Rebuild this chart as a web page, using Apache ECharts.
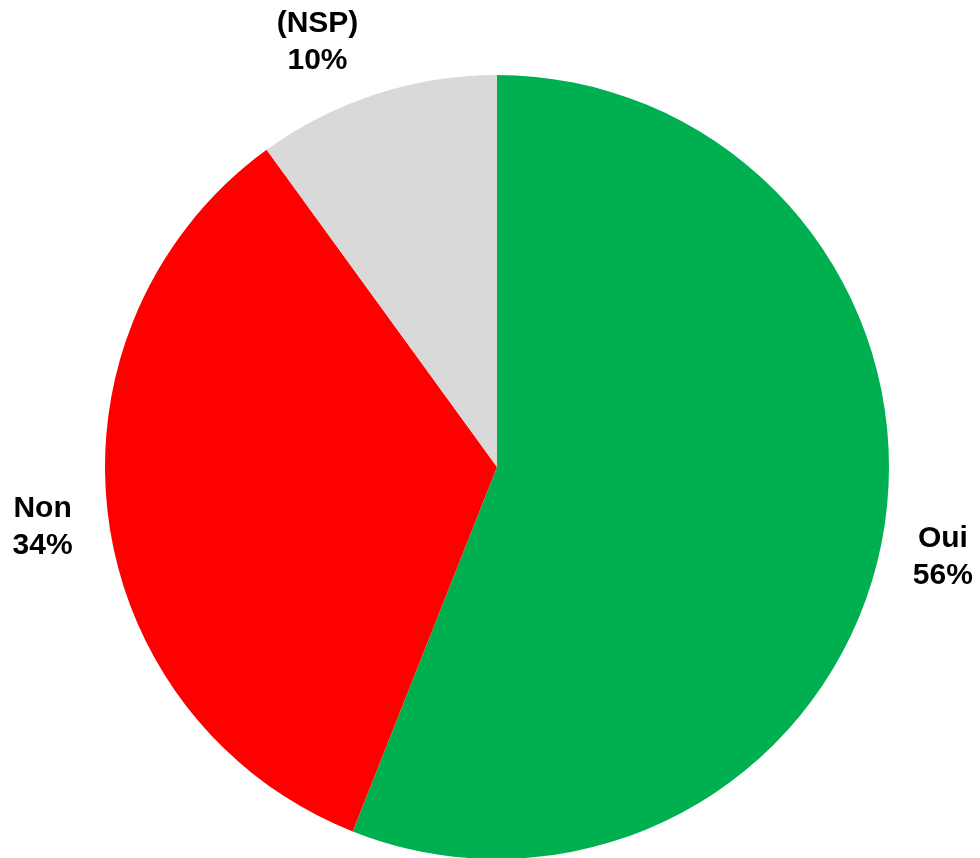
<!DOCTYPE html>
<html><head><meta charset="utf-8">
<script src="https://cdn.jsdelivr.net/npm/echarts@6/dist/echarts.min.js"></script>
<style>html,body{margin:0;padding:0;background:#fff}#c{width:980px;height:858px}</style>
</head><body><div id="c"></div>
<script>
const categories = ['Oui', 'Non', '(NSP)'];
const values = [56, 34, 10];
const colors = ['#00B050', '#FF0000', '#D9D9D9'];
const labelShift = [[-4, 4], [0, 3], [-38, 11]];

const data = categories.map((name, i) => ({ name: name, value: values[i], itemStyle: { color: colors[i] } }));
const chart = echarts.init(document.getElementById('c'));
chart.setOption({
  animation: false,
  series: [
    {
      type: 'pie',
      center: [497, 467],
      radius: [0, 392],
      startAngle: 90,
      clockwise: true,
      silent: true,
      label: { show: false },
      labelLine: { show: false },
      itemStyle: { borderWidth: 0 },
      data: data
    },
    {
      type: 'pie',
      center: [497, 467],
      radius: [435, 475],
      startAngle: 90,
      clockwise: true,
      silent: true,
      avoidLabelOverlap: false,
      itemStyle: { color: 'transparent', borderWidth: 0 },
      label: {
        show: true,
        position: 'inside',
        formatter: p => p.name + '\n' + p.value + '%',
        fontFamily: 'Liberation Sans, Arial, sans-serif',
        fontWeight: 'bold',
        fontSize: 30,
        lineHeight: 37,
        color: '#000'
      },
      labelLine: { show: false },
      labelLayout: p => ({ dx: labelShift[p.dataIndex][0], dy: labelShift[p.dataIndex][1] }),
      data: categories.map((name, i) => ({ name: name, value: values[i] }))
    }
  ]
});
</script></body></html>
